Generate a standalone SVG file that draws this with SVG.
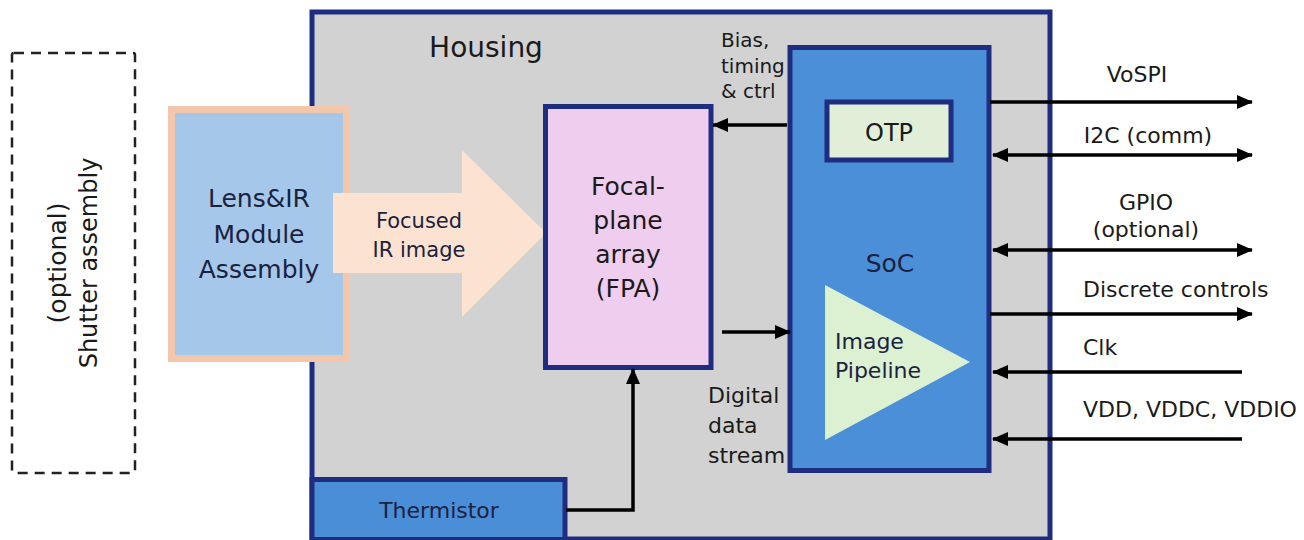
<svg xmlns="http://www.w3.org/2000/svg" width="1304" height="540" viewBox="0 0 1304 540">
  <style>
    text { font-family: "DejaVu Sans", "Noto Sans", sans-serif; fill: #1a1a1a; }
    .box { stroke: #1f2d80; stroke-width: 5; }
    .lbl { fill: #1b2240; }
    .wire { stroke: #000; stroke-width: 3.5; fill: none; }
    .mid { text-anchor: middle; }
  </style>
  <defs>
    <marker id="head" markerUnits="userSpaceOnUse" markerWidth="16" markerHeight="14" refX="15" refY="7" orient="auto-start-reverse">
      <path d="M0,0 L16,7 L0,14 z" fill="#000"/>
    </marker>
  </defs>

  <!-- optional shutter (dashed outline) -->
  <g id="shutter">
    <rect x="12" y="53" width="123" height="420" rx="2" fill="none" stroke="#222" stroke-width="2.5" stroke-dasharray="10 7"/>
    <text transform="translate(66,263) rotate(-90)" class="mid" font-size="25">(optional)</text>
    <text transform="translate(97,263) rotate(-90)" class="mid" font-size="24">Shutter assembly</text>
  </g>

  <!-- housing enclosure -->
  <g id="housing">
    <rect x="312" y="12" width="738" height="527" fill="#d2d2d2" class="box"/>
    <text x="486" y="57" class="mid" font-size="28">Housing</text>
  </g>

  <!-- lens and IR module -->
  <g id="lens">
    <rect x="168" y="106" width="182" height="256" fill="#f3c7ab"/>
    <rect x="175" y="113" width="168" height="242" fill="#a5c8ea"/>
    <text x="259" y="207" class="mid lbl" font-size="25">Lens&amp;IR</text>
    <text x="259" y="243" class="mid lbl" font-size="25">Module</text>
    <text x="259" y="278" class="mid lbl" font-size="25">Assembly</text>
  </g>

  <!-- focused IR image (block arrow) -->
  <g id="ir-image">
    <path d="M333,193 L462,193 L462,150 L546,233 L462,317 L462,273 L333,273 z" fill="#fce2d0"/>
    <text x="419" y="228" class="mid lbl" font-size="21">Focused</text>
    <text x="419" y="257" class="mid lbl" font-size="21">IR image</text>
  </g>

  <!-- focal-plane array -->
  <g id="fpa">
    <rect x="545.5" y="106.5" width="165.5" height="261" fill="#efcdee" class="box"/>
    <text x="628" y="195" class="mid" font-size="25">Focal-</text>
    <text x="628" y="229" class="mid" font-size="25">plane</text>
    <text x="628" y="263" class="mid" font-size="25">array</text>
    <text x="628" y="297" class="mid" font-size="25">(FPA)</text>
  </g>

  <!-- thermistor -->
  <g id="thermistor">
    <rect x="312" y="479.5" width="253" height="60" fill="#4a8ed8" class="box"/>
    <text x="439" y="518" class="mid lbl" font-size="22">Thermistor</text>
  </g>

  <!-- system on chip -->
  <g id="soc">
    <rect x="790" y="47.5" width="199" height="423" fill="#4b8fd8" class="box"/>
    <text x="890" y="272" class="mid lbl" font-size="25">SoC</text>
  </g>

  <g id="otp">
    <rect x="827" y="102" width="124" height="58" fill="#e1efd8" class="box"/>
    <text x="889" y="141" class="mid" font-size="24">OTP</text>
  </g>

  <g id="pipeline">
    <polygon points="825,285 825,440 970,362" fill="#dcf0d2"/>
    <text x="835" y="349" font-size="22" class="lbl">Image</text>
    <text x="835" y="378" font-size="22" class="lbl">Pipeline</text>
  </g>

  <!-- signal connectors -->
  <g id="connectors">
    <line x1="787" y1="125" x2="713" y2="125" class="wire" marker-end="url(#head)"/>
    <line x1="722" y1="332" x2="790" y2="332" class="wire" marker-end="url(#head)"/>
    <polyline points="566,510 633,510 633,369" class="wire" stroke-width="4" marker-end="url(#head)"/>

    <line x1="990" y1="102" x2="1252" y2="102" class="wire" marker-end="url(#head)"/>
    <line x1="993" y1="155" x2="1252" y2="155" class="wire" marker-start="url(#head)" marker-end="url(#head)"/>
    <line x1="993" y1="250" x2="1252" y2="250" class="wire" marker-start="url(#head)" marker-end="url(#head)"/>
    <line x1="990" y1="314" x2="1252" y2="314" class="wire" marker-end="url(#head)"/>
    <line x1="1242" y1="372" x2="993" y2="372" class="wire" marker-end="url(#head)"/>
    <line x1="1242" y1="439" x2="993" y2="439" class="wire" marker-end="url(#head)"/>
  </g>

  <!-- connector labels -->
  <g id="labels">
    <text x="721" y="47" font-size="20">Bias,</text>
    <text x="721" y="73" font-size="20">timing</text>
    <text x="721" y="98" font-size="20">&amp; ctrl</text>
    <text x="708" y="403" font-size="22">Digital</text>
    <text x="708" y="433" font-size="22">data</text>
    <text x="708" y="463" font-size="22">stream</text>

    <text x="1137" y="82" class="mid" font-size="22">VoSPI</text>
    <text x="1148" y="143" class="mid" font-size="22">I2C (comm)</text>
    <text x="1146" y="210" class="mid" font-size="22">GPIO</text>
    <text x="1146" y="237" class="mid" font-size="22">(optional)</text>
    <text x="1083" y="297" font-size="22">Discrete controls</text>
    <text x="1083" y="355" font-size="22">Clk</text>
    <text x="1083" y="417" font-size="22">VDD, VDDC, VDDIO</text>
  </g>
</svg>
